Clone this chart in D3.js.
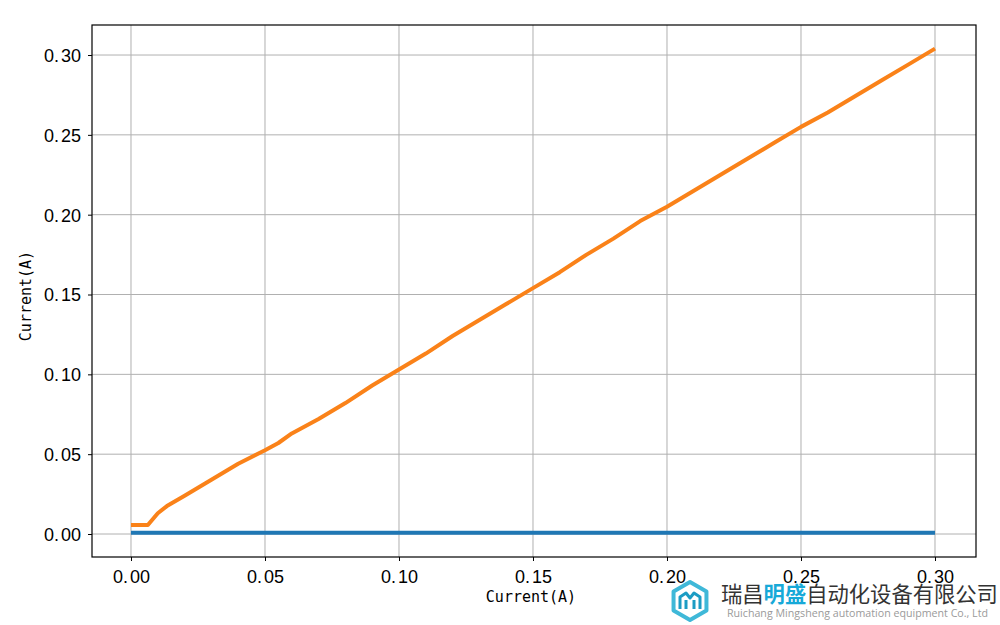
<!DOCTYPE html>
<html><head><meta charset="utf-8">
<script src="https://cdn.jsdelivr.net/npm/d3@7"></script>
<style>body{margin:0;background:#fff}svg{display:block}</style>
</head><body>
<svg id="c" width="1000" height="625"></svg>
<script>
const orangeX = [0,0.0063,0.0085,0.010,0.0134,0.02,0.03,0.035,0.04,0.05,0.055,0.06,0.07,0.08,0.09,0.10,0.11,0.12,0.13,0.14,0.15,0.16,0.17,0.18,0.19,0.20,0.21,0.22,0.23,0.24,0.25,0.26,0.27,0.28,0.29,0.30];
const orangeY = [0.0056,0.0056,0.010,0.013,0.0175,0.024,0.034,0.039,0.044,0.0525,0.057,0.063,0.072,0.082,0.093,0.103,0.113,0.124,0.134,0.144,0.154,0.164,0.175,0.185,0.196,0.205,0.215,0.225,0.235,0.245,0.255,0.264,0.274,0.284,0.294,0.304];
const blueX = [0,0.30];
const blueY = [0.0008,0.0008];
const xTicks = [0,0.05,0.10,0.15,0.20,0.25,0.30];
const yTicks = [0,0.05,0.10,0.15,0.20,0.25,0.30];
const xLabel = "Current(A)";
const yLabel = "Current(A)";
const brandA = "瑞昌", brandB = "明盛", brandC = "自动化设备有限公司";
const brandEn = "Ruichang Mingsheng automation equipment Co., Ltd";

const svg = d3.select("#c");
const L=92,R=976,T=25,B=557;
const x = d3.scaleLinear().domain([-0.01455,0.3153]).range([L,R]);
const y = d3.scaleLinear().domain([-0.0144,0.3188]).range([B,T]);
const mono = "'DejaVu Sans Mono','Liberation Mono',monospace";
const sans = "'Liberation Sans','Arial',sans-serif";

// grid
svg.append("g").selectAll("line").data(xTicks).join("line")
  .attr("x1",d=>x(d)).attr("x2",d=>x(d)).attr("y1",T).attr("y2",B)
  .attr("stroke","#b0b0b0").attr("stroke-width",1);
svg.append("g").selectAll("line").data(yTicks).join("line")
  .attr("y1",d=>y(d)).attr("y2",d=>y(d)).attr("x1",L).attr("x2",R)
  .attr("stroke","#b0b0b0").attr("stroke-width",1);

const line = d3.line().x(d=>x(d[0])).y(d=>y(d[1]));
svg.append("path").datum(blueX.map((v,i)=>[v,blueY[i]])).attr("d",line)
  .attr("fill","none").attr("stroke","#1f77b4").attr("stroke-width",4);
svg.append("path").datum(orangeX.map((v,i)=>[v,orangeY[i]])).attr("d",line)
  .attr("fill","none").attr("stroke","#fa8219").attr("stroke-width",4).attr("stroke-linejoin","round");

// axes
const xa = svg.append("g").attr("transform",`translate(0,${B})`)
  .call(d3.axisBottom(x).tickValues(xTicks).tickFormat(d3.format(".2f")).tickSize(4).tickPadding(7).tickSizeOuter(0));
const ya = svg.append("g").attr("transform",`translate(${L},0)`)
  .call(d3.axisLeft(y).tickValues(yTicks).tickFormat(d3.format(".2f")).tickSize(4).tickPadding(7).tickSizeOuter(0));
[xa,ya].forEach(a=>{a.select(".domain").remove();a.selectAll("line").attr("stroke","#000");
  a.selectAll("text").attr("font-family",sans).attr("font-size",18).attr("fill","#000")
   .each(function(){const s=d3.select(this);const t=s.text();const p=t.split(".");s.text(null);
     s.append("tspan").text(p[0]+".");s.append("tspan").attr("dx",2).text(p[1]);});});
xa.selectAll("text").attr("dy","0.85em");
ya.selectAll("text").attr("dy","0.36em");

svg.append("rect").attr("x",L).attr("y",T).attr("width",R-L).attr("height",B-T)
  .attr("fill","none").attr("stroke","#000").attr("stroke-width",1.2);

svg.append("text").attr("x",531).attr("y",602).attr("text-anchor","middle")
  .attr("font-family",mono).attr("font-size",15).text(xLabel);
svg.append("text").attr("transform",`translate(31,${296}) rotate(-90)`).attr("text-anchor","middle")
  .attr("font-family",mono).attr("font-size",15).text(yLabel);

// watermark
const wm = svg.append("g");
const cx=690, cy=601;
const hex = d3.range(6).map(i=>{const a=Math.PI/3*i+Math.PI/6;return [cx+19*Math.cos(a),cy+19*Math.sin(a)];});
wm.append("polygon").attr("points",hex.map(p=>p.join(",")).join(" ")).attr("fill","none")
  .attr("stroke","#3fb8d8").attr("stroke-width",4).attr("stroke-linejoin","round");
wm.append("path").attr("d",`M${cx-10},${cy+8} L${cx-10},${cy-4} L${cx-4},${cy-8} L${cx},${cy-3} L${cx+4},${cy-8} L${cx+10},${cy-4} L${cx+10},${cy+8} M${cx-4},${cy+8} L${cx-4},${cy-1} M${cx+4},${cy+8} L${cx+4},${cy-1}`)
  .attr("fill","none").attr("stroke","#1c9cc4").attr("stroke-width",3).attr("stroke-linejoin","round");
const t = wm.append("text").attr("x",721).attr("y",602).attr("font-family","'Noto Sans CJK SC'").attr("font-size",21.3).attr("fill","#333");
t.append("tspan").text(brandA);
t.append("tspan").attr("fill","#17a9d8").attr("font-weight","bold").text(brandB);
t.append("tspan").text(brandC);
wm.append("text").attr("x",727).attr("y",617).attr("font-family","'Open Sans'").attr("font-size",11).attr("fill","#9a9a9a")
  .attr("textLength",261).attr("lengthAdjust","spacingAndGlyphs").text(brandEn);
</script>
</body></html>
